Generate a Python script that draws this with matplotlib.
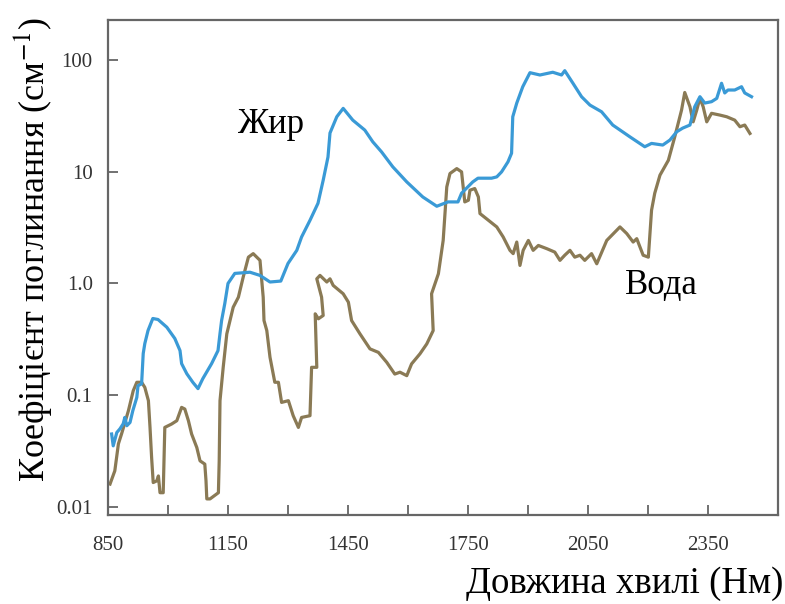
import matplotlib
matplotlib.use("Agg")
import matplotlib.pyplot as plt
from matplotlib.ticker import FixedLocator, FixedFormatter, NullLocator

plt.rcParams['font.family'] = ['Liberation Serif', 'DejaVu Serif']
plt.rcParams['mathtext.fontset'] = 'stix'

# Fat absorption (blue)
fat_nm = [859, 863, 872, 880, 888, 892, 897, 905, 912, 922, 925, 934, 938, 942, 950, 962,
          975, 997, 1017, 1030, 1034, 1047, 1062, 1075, 1087, 1109, 1125, 1130, 1134, 1142,
          1150, 1167, 1205, 1230, 1255, 1282, 1300, 1322, 1334, 1355, 1375, 1388, 1400, 1405,
          1422, 1438, 1462, 1492, 1512, 1534, 1562, 1597, 1637, 1672, 1700, 1725, 1734, 1762,
          1775, 1809, 1822, 1834, 1850, 1859, 1862, 1872, 1887, 1905, 1930, 1962, 1984, 1992,
          2012, 2034, 2055, 2084, 2112, 2155, 2192, 2209, 2237, 2255, 2272, 2287, 2305, 2317,
          2330, 2342, 2359, 2372, 2384, 2392, 2400, 2417, 2434, 2442, 2459]
fat_val = [0.0447, 0.035, 0.0461, 0.0498, 0.0552, 0.0629, 0.053, 0.0567, 0.0723, 0.0951, 0.121,
           0.126, 0.235, 0.289, 0.378, 0.485, 0.475, 0.405, 0.321, 0.250, 0.191, 0.155, 0.130,
           0.114, 0.140, 0.191, 0.250, 0.356, 0.465, 0.661, 1.0, 1.23, 1.26, 1.18, 1.03, 1.05,
           1.51, 1.98, 2.61, 3.68, 5.23, 8.42, 13.6, 22.3, 31.2, 37.1, 29.1, 23.7, 18.6, 15.1,
           11.1, 8.13, 5.96, 4.92, 5.38, 5.38, 6.44, 8.13, 8.78, 8.78, 9.02, 10.0, 12.3, 14.7,
           31.2, 41.4, 58.0, 77.5, 73.9, 78.2, 73.9, 80.8, 62.7, 47.2, 39.7, 34.6, 26.3, 20.6,
           16.8, 18.0, 17.4, 19.3, 22.9, 24.7, 26.3, 38.4, 47.2, 41.4, 42.6, 45.6, 62.3, 51.0,
           54.2, 54.2, 58.0, 51.0, 47.2]

# Water absorption (brown)
water_nm = [855, 867, 876, 884, 901, 913, 922, 934, 942, 951, 955, 959, 963, 972, 976, 980,
            988, 992, 1009, 1022, 1034, 1042, 1051, 1059, 1072, 1080, 1092, 1095, 1097, 1105,
            1126, 1128, 1130, 1138, 1147, 1155, 1163, 1176, 1188, 1201, 1213, 1230, 1238, 1240,
            1247, 1255, 1267, 1276, 1284, 1301, 1313, 1326, 1334, 1355, 1359, 1372, 1368, 1376,
            1388, 1384, 1372, 1380, 1397, 1405, 1413, 1438, 1451, 1459, 1480, 1505, 1526, 1547,
            1567, 1580, 1597, 1609, 1630, 1647, 1663, 1659, 1676, 1688, 1697, 1705, 1722, 1734,
            1738, 1742, 1751, 1755, 1767, 1776, 1780, 1801, 1822, 1838, 1855, 1863, 1872, 1880,
            1888, 1901, 1913, 1926, 1947, 1967, 1980, 1992, 2005, 2017, 2030, 2042, 2059, 2072,
            2097, 2130, 2147, 2163, 2172, 2188, 2201, 2209, 2217, 2230, 2251, 2267, 2284, 2292,
            2305, 2313, 2322, 2330, 2338, 2347, 2359, 2380, 2397, 2417, 2430, 2442, 2455]
water_val = [0.0159, 0.0209, 0.0365, 0.0449, 0.0723, 0.109, 0.130, 0.130, 0.117, 0.0889, 0.0512,
             0.0275, 0.0164, 0.0170, 0.0188, 0.0133, 0.0133, 0.0512, 0.0549, 0.0588, 0.0774,
             0.0748, 0.0588, 0.0447, 0.0338, 0.0257, 0.0240, 0.0170, 0.0117, 0.0117, 0.0133,
             0.0257, 0.0889, 0.177, 0.353, 0.465, 0.612, 0.753, 1.14, 1.72, 1.85, 1.61, 0.753,
             0.465, 0.378, 0.218, 0.130, 0.130, 0.0858, 0.0889, 0.0652, 0.0512, 0.0629, 0.0652,
             0.177, 0.177, 0.534, 0.482, 0.516, 0.753, 1.10, 1.18, 1.03, 1.10, 0.96, 0.808, 0.679,
             0.465, 0.353, 0.259, 0.241, 0.196, 0.154, 0.160, 0.149, 0.190, 0.234, 0.287, 0.378,
             0.808, 1.22, 2.43, 7.33, 9.67, 10.7, 10.0, 7.33, 5.38, 5.57, 6.85, 7.09, 5.96, 4.23,
             3.68, 3.21, 2.61, 1.98, 1.85, 2.35, 1.45, 1.98, 2.43, 1.98, 2.19, 2.05, 1.91, 1.61,
             1.79, 1.98, 1.72, 1.79, 1.61, 1.85, 1.50, 2.43, 3.21, 2.80, 2.35, 2.52, 1.79, 1.72,
             4.53, 6.44, 9.34, 12.7, 20.6, 35.8, 51.5, 38.4, 28.1, 35.8, 45.9, 38.4, 28.1, 33.5,
             32.3, 31.2, 29.1, 25.4, 26.3, 22.1]

x_major = [850, 1150, 1450, 1750, 2050, 2350]
x_minor = [1000, 1300, 1600, 1900, 2200]
y_ticks = [0.01, 0.1, 1, 10, 100]
y_labels = ["0.01", "0.1", "1.0", "10", "100"]

fig = plt.figure(figsize=(7.85, 6.04), dpi=100)
ax = fig.add_axes([0.1376, 0.1474, 0.8534, 0.8195])

ax.plot(water_nm, water_val, color='#8a7a55', lw=2.3, solid_joinstyle='round')
ax.plot(fat_nm, fat_val, color='#3a9ad6', lw=2.3, solid_joinstyle='round')

ax.set_yscale('log')
ax.set_xlim(850, 2525)
ax.set_ylim(0.0084, 230)

ax.xaxis.set_major_locator(FixedLocator(x_major))
ax.xaxis.set_minor_locator(FixedLocator(x_minor))
ax.yaxis.set_major_locator(FixedLocator(y_ticks))
ax.yaxis.set_major_formatter(FixedFormatter(y_labels))
ax.yaxis.set_minor_locator(NullLocator())

ax.tick_params(axis='both', which='both', direction='in', length=7, width=1.3,
               color='#666666', labelcolor='#333333', labelsize=15,
               top=False, right=False)
ax.tick_params(axis='x', which='major', pad=15)
ax.tick_params(axis='y', which='major', pad=11)

for s in ax.spines.values():
    s.set_color('#666666')
    s.set_linewidth(1.6)

ax.text(1175, 22.3, "Жир", fontsize=25, color='black', ha='left', va='baseline')
ax.text(2142, 0.808, "Вода", fontsize=25, color='black', ha='left', va='baseline')

fig.text(0.998, 0.018, "Довжина хвилі (Нм)", fontsize=26.5, ha='right', va='baseline')
fig.text(0.042, 0.588, "Коефіцієнт поглинання (см$^{-1}$)", fontsize=26, rotation=90,
         ha='center', va='center')

fig.savefig("out.png", dpi=100)
